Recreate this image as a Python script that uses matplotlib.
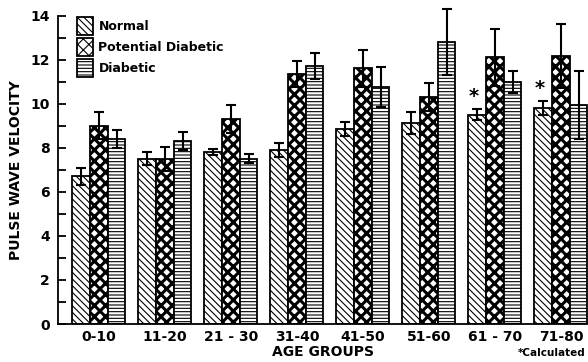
import matplotlib
matplotlib.use("Agg")
import matplotlib.pyplot as plt
import numpy as np

groups = ["0-10", "11-20", "21 - 30", "31-40", "41-50", "51-60", "61 - 70", "71-80"]
series = ["Normal", "Potential Diabetic", "Diabetic"]
normal = [6.7, 7.5, 7.8, 7.9, 8.85, 9.1, 9.5, 9.8]
normal_err = [0.4, 0.3, 0.15, 0.3, 0.3, 0.5, 0.25, 0.3]
potential = [9.0, 7.5, 9.3, 11.35, 11.6, 10.3, 12.1, 12.15]
potential_err = [0.6, 0.55, 0.65, 0.6, 0.85, 0.65, 1.3, 1.45]
diabetic = [8.4, 8.3, 7.5, 11.7, 10.75, 12.8, 11.0, 9.95]
diabetic_err = [0.4, 0.4, 0.2, 0.6, 0.9, 1.5, 0.5, 1.55]
starred = [6, 7]
hatches = ["\\\\\\\\\\", "xxx", "-----"]

plt.rcParams["font.family"] = ["DejaVu Sans"]
plt.rcParams["font.weight"] = "bold"
plt.rcParams["axes.labelweight"] = "bold"
plt.rcParams["hatch.linewidth"] = 0.8

fig = plt.figure(figsize=(5.88, 3.62), dpi=100)
ax = fig.add_axes([58/588, 1-324/362, 1-58/588, (324-15.5)/362])

x = np.arange(len(groups))
w = 0.268
vals = [normal, potential, diabetic]
errs = [normal_err, potential_err, diabetic_err]
for k in range(3):
    pos = x + (k-1)*w
    bars = ax.bar(pos, vals[k], w, color="white", edgecolor="black", linewidth=1.3,
                  hatch=hatches[k], label=series[k], zorder=2)
    if k == 1:
        for b in bars:
            if hasattr(b, "set_hatch_linewidth"):
                b.set_hatch_linewidth(2.2)
    eb = ax.errorbar(pos, vals[k], yerr=errs[k], fmt="none", ecolor="black",
                     elinewidth=1.5, capsize=3.5, capthick=1.5, zorder=3)
    for art in eb.lines[1] + eb.lines[2]:
        art.set_clip_on(False)

for i in starred:
    ax.text(x[i]-w-0.05, normal[i]+normal_err[i]+0.15, "*", ha="center", va="bottom",
            fontsize=14, fontweight="bold")

ax.set_xlim(-0.62, 7.41)
ax.set_ylim(0, 14)
ax.set_yticks(np.arange(0, 15, 2))
ax.set_yticks(np.arange(1, 14, 2), minor=True)
ax.set_xticks(x)
ax.set_xticklabels(groups, fontsize=10)
ax.tick_params(axis="y", direction="in", length=6, width=1.3, labelsize=10, pad=6)
ax.tick_params(axis="y", which="minor", direction="in", length=6, width=1.3)
ax.tick_params(axis="x", length=0, pad=4)
for s in ["top", "right"]:
    ax.spines[s].set_visible(False)
ax.spines["left"].set_linewidth(1.3)
ax.spines["bottom"].set_linewidth(1.3)

ax.set_ylabel("PULSE WAVE VELOCITY", fontsize=10, labelpad=5)
ax.set_xlabel("AGE GROUPS", fontsize=10, labelpad=1)

leg = ax.legend(loc="upper left", bbox_to_anchor=(0.015, 1.03), frameon=False,
                fontsize=9, handlelength=1.3, handleheight=1.8, labelspacing=0.25,
                handletextpad=0.4)

fig.text(518/588, 1-353/362, "*Calculated", fontsize=7.5, va="center", ha="left")

fig.savefig("out.png", dpi=100)
